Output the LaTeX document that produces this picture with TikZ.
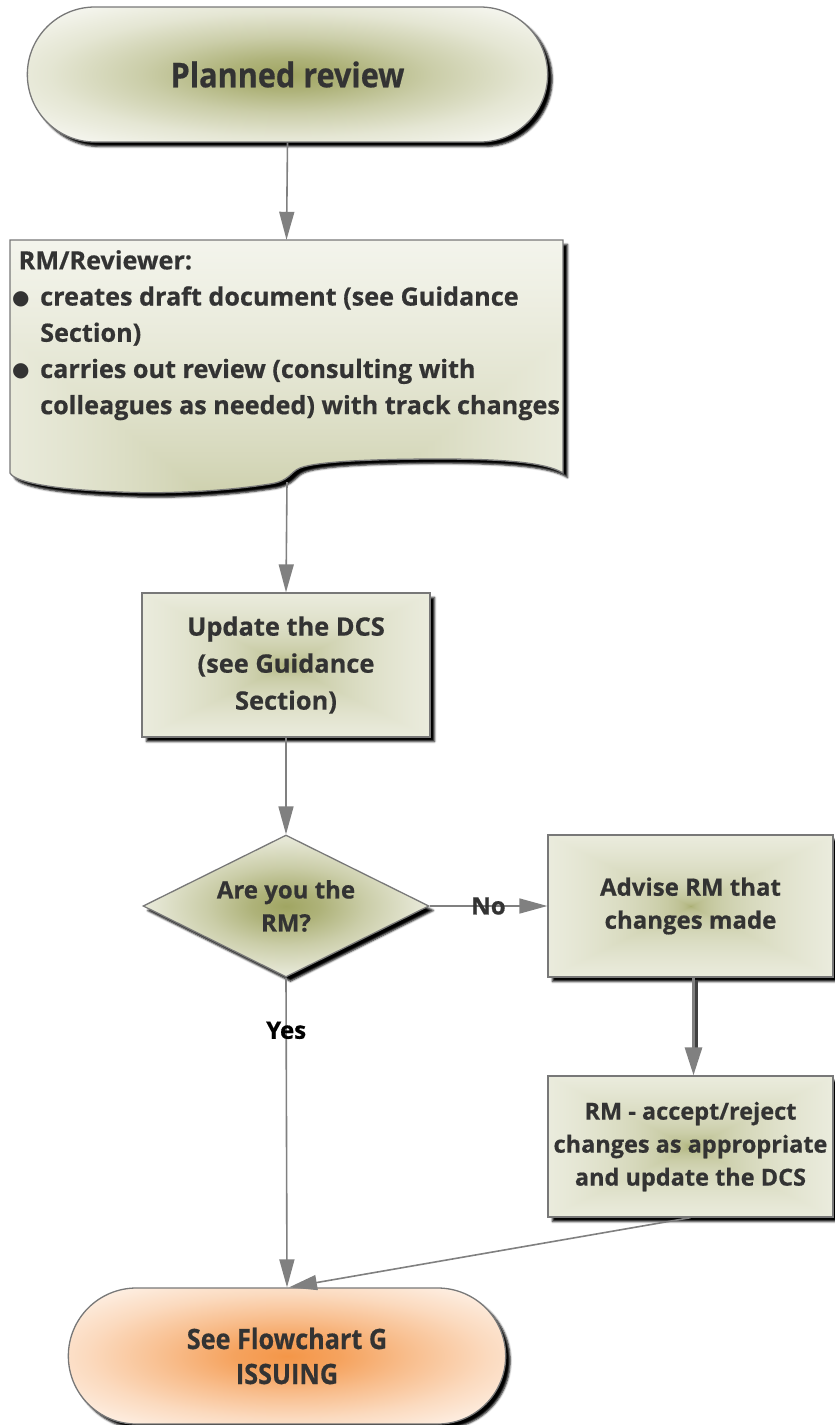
\documentclass[tikz,border=0pt]{standalone}
\usepackage{fontspec}
\setmainfont{Open Sans}[BoldFeatures={FakeBold=0.6}]
\newfontfamily\condf{Open Sans}[FakeStretch=0.9,BoldFeatures={FakeBold=0.6}]
\newfontfamily\dvf{DejaVu Sans}
\usetikzlibrary{shapes.misc,shapes.geometric,arrows.meta,shadows,shadows.blur}
\definecolor{olv}{RGB}{160,165,98}
\definecolor{org}{RGB}{244,150,72}
\definecolor{txt}{RGB}{51,51,51}
\definecolor{edge}{RGB}{120,120,120}
\definecolor{arr}{RGB}{128,128,128}
\pgfdeclareradialshading{oliveell}{\pgfpoint{0bp}{0bp}}{color(0bp)=(olv);color(6bp)=(olv!85!white);color(14bp)=(olv!55!white);color(23bp)=(olv!28!white);color(32bp)=(olv!10!white);color(42bp)=(white!98!olv);color(60bp)=(white)}
\pgfdeclareradialshading{orangeell}{\pgfpoint{0bp}{0bp}}{color(0bp)=(org);color(6bp)=(org!88!white);color(14bp)=(org!62!white);color(23bp)=(org!35!white);color(32bp)=(org!14!white);color(42bp)=(white!98!org);color(60bp)=(white)}
\pgfdeclarefunctionalshading{olivebox}{\pgfpoint{-50bp}{-50bp}}{\pgfpoint{50bp}{50bp}}{}{%
  abs 50 div exch abs 50 div 2 copy lt {exch} if pop
  dup 1 gt {pop 1} if 0.35 exp
  dup 0.373 mul 0.627 add exch dup 0.353 mul 0.647 add exch 0.616 mul 0.384 add}
\pgfdeclarefunctionalshading{olivedoc}{\pgfpoint{-50bp}{-50bp}}{\pgfpoint{50bp}{50bp}}{}{%
  38 add abs 88 div exch abs 50 div 2 copy lt {exch} if pop
  dup 1 gt {pop 1} if 0.38 exp
  dup 0.373 mul 0.627 add exch dup 0.353 mul 0.647 add exch 0.616 mul 0.384 add}
\tikzset{
  shadowed/.style={blur shadow={shadow xshift=4.5pt,shadow yshift=-4.5pt,shadow blur radius=2pt,shadow opacity=100}},
  terminal/.style={rounded rectangle,draw=edge,line width=1.3pt,shadowed,font=\condf\bfseries\fontsize{34}{40}\selectfont,text=txt,align=center},
  procbox/.style={rectangle,draw=edge,line width=1.3pt,shadowed,shading=olivebox,font=\bfseries\fontsize{24}{33}\selectfont,text=txt,align=center},
  decision/.style={diamond,aspect=2,draw=edge,line width=1.3pt,shadowed,shading=oliveell,inner sep=0pt,font=\bfseries\fontsize{24}{33}\selectfont,text=txt,align=center},
  flow/.style={draw=arr,line width=1.6pt,-{Triangle[length=28pt,width=15pt]}},
  lbl/.style={font=\bfseries\fontsize{24}{30}\selectfont,inner sep=0pt}
}
\newcommand{\bul}{\makebox[28pt][l]{\raisebox{1pt}{\dvf\fontsize{20}{20}\selectfont ●}}}
\begin{document}
\begin{tikzpicture}[x=1pt,y=-1pt]
\useasboundingbox (0,0) rectangle (835,1425);
% start terminal
\node[terminal,shading=oliveell,minimum width=527pt,minimum height=135pt] (start) at (287.5,74.5) {Planned review};
% document shape
\node[minimum width=553pt,minimum height=233pt,inner sep=0pt] (doc) at (286.5,356.5) {};
\path[draw=edge,line width=1.3pt,shading=olivedoc,shadowed]
  (10,240) -- (563,240) -- (563,473)
  .. controls (545,462) and (500,459) .. (440,459)
  .. controls (380,459) and (318,461) .. (300,468)
  .. controls (290,472) and (290,481) .. (270,484)
  .. controls (220,492) and (160,494) .. (120,492)
  .. controls (60,490) and (15,483) .. (10,473) -- cycle;
\coordinate (docB) at (287,482);
\node[anchor=north west,inner sep=0pt,align=left,text=txt,font=\bfseries\fontsize{25.2}{36.2}\selectfont] (doctext) at (12,250)
 {\hspace*{6.5pt}RM/Reviewer:\\
  \bul creates draft document (see Guidance\\
  \hspace*{28pt}Section)\\
  \bul carries out review (consulting with\\
  \hspace*{28pt}colleagues as needed) with track changes};
% update box
\node[procbox,minimum width=288pt,minimum height=144pt,font=\bfseries\fontsize{25.4}{37}\selectfont] (upd) at (286,665) {Update the DCS\\(see Guidance\\Section)};
% decision
\node[decision,minimum width=286pt,minimum height=142pt] (dec) at (286,906) {Are you the\\RM?};
% advise
\node[procbox,minimum width=285pt,minimum height=142pt] (adv) at (690.5,906) {Advise RM that\\changes made};
% RM accept
\node[procbox,minimum width=285pt,minimum height=141pt,font=\bfseries\fontsize{23.5}{33}\selectfont] (rma) at (690.5,1146.5) {RM - accept/reject\\changes as appropriate\\and update the DCS};
% end terminal
\node[terminal,shading=orangeell,minimum width=444pt,minimum height=136pt,font=\condf\bfseries\fontsize{28}{35}\selectfont] (fin) at (287,1356) {See Flowchart G\\ISSUING};
% connectors
\draw[flow] (start.south) -- (doc.north);
\draw[flow] (docB) -- (upd.north);
\draw[flow] (upd.south) -- (dec.north);
\draw[flow] (dec.east) -- (adv.west) node[lbl,text=txt,pos=0.5] {No};
\draw[draw=black!75,line width=3pt,transform canvas={shift={(3pt,-3pt)}}] ([xshift=3pt]adv.south) -- ([xshift=3pt,yshift=28pt]rma.north);
\draw[draw=arr,line width=3pt,-{Triangle[length=28pt,width=17pt]}] ([xshift=3pt]adv.south) -- ([xshift=3pt]rma.north);
\draw[flow] (dec.south) -- (fin.north) node[lbl,text=black,pos=0.17] {Yes};
\draw[flow] (rma.south) -- ([xshift=2pt]fin.north);
\end{tikzpicture}
\end{document}
